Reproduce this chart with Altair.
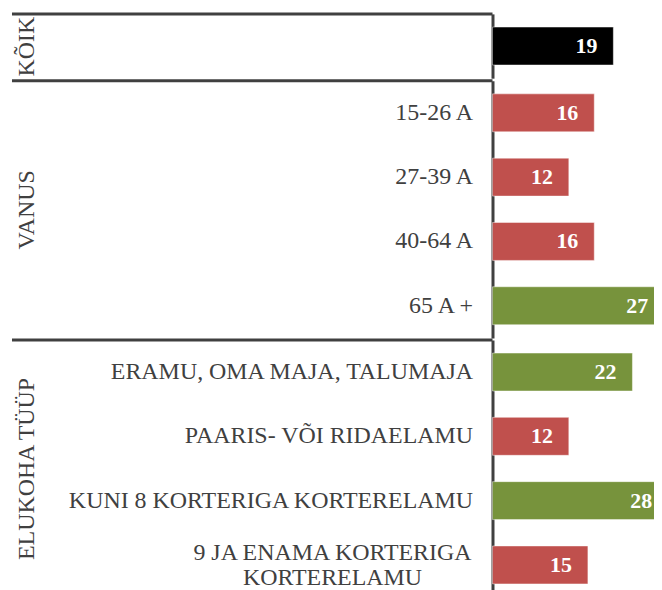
import altair as alt
import pandas as pd

groups = ["KÕIK", "VANUS", "VANUS", "VANUS", "VANUS",
          "ELUKOHA TÜÜP", "ELUKOHA TÜÜP", "ELUKOHA TÜÜP", "ELUKOHA TÜÜP"]
categories = ["KÕIK", "15-26 A", "27-39 A", "40-64 A", "65 A +",
              "ERAMU, OMA MAJA, TALUMAJA", "PAARIS- VÕI RIDAELAMU",
              "KUNI 8 KORTERIGA KORTERELAMU",
              "9 JA ENAMA KORTERIGA|KORTERELAMU"]
values = [19, 16, 12, 16, 27, 22, 12, 28, 15]

df = pd.DataFrame({"grupp": groups, "kategooria": categories, "väärtus": values})
overall = values[0]

PLOT_W = 644
AXIS_X = 482
UNIT = 6.38
X_MIN, X_MAX = -AXIS_X / UNIT, (PLOT_W - AXIS_X) / UNIT
LABEL_CAP = 27.6  # keep value labels inside the page edge
FONT = "Liberation Serif"
GREY = "#404040"
STEP = 64.5

color_scale = alt.Scale(domain=["kõik", "üle", "alla"],
                        range=["#000000", "#77933C", "#C0504D"])
xs = alt.Scale(domain=[X_MIN, X_MAX], nice=False, zero=False)

MULTI = "indexof(datum.value, '|') >= 0"


def panel(g, show_labels):
    sub = df[df.grupp == g]
    n = len(sub)
    h = STEP * n
    base = alt.Chart(sub).transform_calculate(
        kind=f"datum.grupp == 'KÕIK' ? 'kõik' : (datum['väärtus'] > {overall} ? 'üle' : 'alla')",
        lx=f"min(datum['väärtus'], {LABEL_CAP})",
    ).encode(
        y=alt.Y("kategooria:N", sort=list(sub.kategooria),
                scale=alt.Scale(paddingInner=0.41, paddingOuter=0.205),
                axis=alt.Axis(
                    title=g, titleFont=FONT, titleFontSize=24, titleFontWeight="normal",
                    titleColor=GREY, titleAngle=-90, titleX=15 - AXIS_X, titleY=h / 2,
                    titleAlign="center", titleBaseline="middle",
                    labels=show_labels, labelFont=FONT, labelFontSize=24,
                    labelColor=GREY, labelLimit=600,
                    labelExpr="split(datum.label, '|')", labelLineHeight=25,
                    labelOffset={"condition": {"test": MULTI, "value": -12}, "value": 0},
                    labelAlign={"condition": {"test": MULTI, "value": "center"}, "value": "right"},
                    labelPadding={"condition": {"test": MULTI, "value": 161}, "value": 20},
                    ticks=False, domainColor=GREY, domainWidth=3,
                    offset=-AXIS_X, grid=False))
    )
    bars = base.mark_bar(clip=True, stroke="white", strokeOpacity=0.45,
                         strokeWidth=1).encode(
        x=alt.X("väärtus:Q", scale=xs, axis=None),
        x2=alt.datum(0),
        color=alt.Color("kind:N", scale=color_scale, legend=None),
    )
    text = base.mark_text(align="right", baseline="middle", dx=-16, font=FONT,
                          fontSize=22, fontWeight="bold", color="white").encode(
        x=alt.X("lx:Q", scale=xs, axis=None),
        text=alt.Text("väärtus:Q"),
    )
    rule = alt.Chart(pd.DataFrame({"k": [0]})).mark_rule(
        color=GREY, strokeWidth=3, strokeCap="butt").encode(
        x=alt.datum(X_MIN, scale=xs), x2=alt.datum(0), y=alt.value(0))
    return alt.layer(bars, text, rule).properties(width=PLOT_W, height=alt.Step(STEP))


chart = alt.vconcat(
    panel("KÕIK", False),
    panel("VANUS", True),
    panel("ELUKOHA TÜÜP", True),
    spacing=0,
).properties(
    padding={"left": 2, "top": 3, "right": 0, "bottom": 0}
).configure_view(stroke=None)

chart.save("out.html", embed_options={"renderer": "svg", "actions": False})
